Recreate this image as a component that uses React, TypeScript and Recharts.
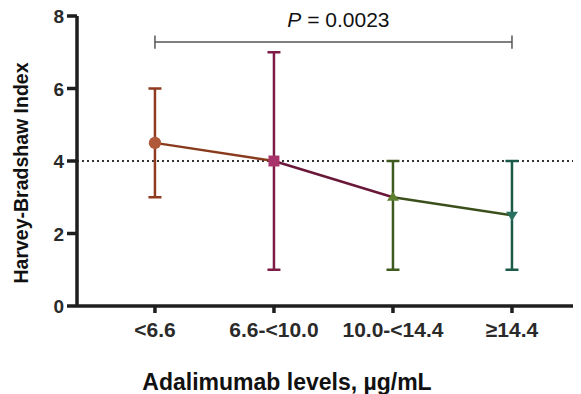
import { ComposedChart, Line, Scatter, ErrorBar, XAxis, YAxis, ZAxis, ReferenceLine } from 'recharts'

const groups = ['<6.6', '6.6-<10.0', '10.0-<14.4', '≥14.4']
const medians = [4.5, 4, 3, 2.5]
const lows = [3, 1, 1, 1]
const highs = [6, 7, 4, 4]
const yTicks = [0, 2, 4, 6, 8]
const pText = '= 0.0023'
const bracketY = 7.28

const markerColors = ['#b0583a', '#a8336a', '#5e7f2e', '#2a7060']
const barColors = ['#8e3b1f', '#7e1c48', '#3f5a1e', '#1b5a48']
const segmentColors = ['#8a3a1c', '#6a1838', '#3a4f1a']
const shapes = ['circle', 'square', 'up', 'down']

const axisColor = '#1e1e1e'
const font = 'Arial, "Liberation Sans", sans-serif'

// one row per group, segment keys only set on the two ends of each segment
const rows = groups.map((g, i) => {
  const row: Record<string, number | null> = { i, v: medians[i] }
  for (let s = 0; s < groups.length - 1; s++) {
    row[`seg${s}`] = i === s || i === s + 1 ? medians[i] : null
  }
  return row
})

const points = groups.map((g, i) => [{ i, v: medians[i], err: [medians[i] - lows[i], highs[i] - medians[i]] }])

const Triangle = (props: any) => {
  const { cx, cy, fill, down } = props
  const r = 6
  const s = down ? 1 : -1
  return <polygon points={`${cx - r},${cy - s * r * 0.6} ${cx + r},${cy - s * r * 0.6} ${cx},${cy + s * r * 0.9}`} fill={fill} />
}

const XTick = (props: any) => {
  const { x, y, payload } = props
  return (
    <text x={x} y={y} dy={22} textAnchor="middle" fontFamily={font} fontWeight="bold" fontSize={21} fill="#2a2a2a">
      {groups[payload.value]}
    </text>
  )
}

const YTick = (props: any) => {
  const { x, y, payload } = props
  return (
    <text x={x} y={y} dx={-1} dy={7} textAnchor="end" fontFamily={font} fontWeight="bold" fontSize={19} fill="#2a2a2a">
      {payload.value}
    </text>
  )
}

const XTitle = (props: any) => {
  const { viewBox } = props
  return (
    <text x={viewBox.x + 210} y={viewBox.y + 84} textAnchor="middle" fontFamily={font} fontWeight="bold" fontSize={23} fill="#111">
      Adalimumab levels, µg/mL
    </text>
  )
}

const YTitle = (props: any) => {
  const { viewBox } = props
  const cx = 28
  const cy = viewBox.y + viewBox.height / 2 + 12
  return (
    <text x={cx} y={cy} transform={`rotate(-90 ${cx} ${cy})`} textAnchor="middle" fontFamily={font} fontWeight="bold" fontSize={19.5} fill="#111">
      Harvey-Bradshaw Index
    </text>
  )
}

const PLabel = (props: any) => {
  const { viewBox } = props
  return (
    <text x={viewBox.x + viewBox.width / 2 + 5} y={viewBox.y - 15} textAnchor="middle" fontFamily={font} fontSize={21} fill="#111">
      <tspan fontStyle="italic">P</tspan> {pText}
    </text>
  )
}

const markerShape = (k: number) => {
  if (shapes[k] === 'up') return <Triangle />
  if (shapes[k] === 'down') return <Triangle down />
  return shapes[k] as any
}

export default function App() {
  return (
    <div style={{ margin: '-8px 0 0 -8px' }}>
      <ComposedChart width={581} height={394} data={rows} margin={{ top: 16, right: 0, bottom: 0, left: 17 }}>
        <XAxis
          type="number"
          dataKey="i"
          domain={[-0.655, 3.58]}
          ticks={[0, 1, 2, 3]}
          allowDataOverflow
          height={88}
          stroke={axisColor}
          strokeWidth={3.5}
          tickSize={7}
          tick={<XTick />}
          label={<XTitle />}
        />
        <YAxis
          type="number"
          domain={[0, 8]}
          ticks={yTicks}
          width={60}
          stroke={axisColor}
          strokeWidth={3.5}
          tickSize={10}
          tick={<YTick />}
          label={<YTitle />}
        />
        <ZAxis range={[120, 120]} />
        <ReferenceLine y={4} stroke="#333" strokeWidth={2} strokeDasharray="2 3" />
        <ReferenceLine
          segment={[{ x: 0, y: bracketY }, { x: 3, y: bracketY }]}
          stroke="#555"
          strokeWidth={1.5}
          label={<PLabel />}
        />
        <ReferenceLine segment={[{ x: 0, y: bracketY - 0.18 }, { x: 0, y: bracketY + 0.18 }]} stroke="#555" strokeWidth={1.5} />
        <ReferenceLine segment={[{ x: 3, y: bracketY - 0.18 }, { x: 3, y: bracketY + 0.18 }]} stroke="#555" strokeWidth={1.5} />
        {segmentColors.map((c, s) => (
          <Line
            key={s}
            type="linear"
            dataKey={`seg${s}`}
            stroke={c}
            strokeWidth={2.5}
            dot={false}
            activeDot={false}
            connectNulls={false}
            isAnimationActive={false}
          />
        ))}
        {points.map((d, k) => (
          <Scatter key={k} data={d} dataKey="v" fill={markerColors[k]} shape={markerShape(k)} isAnimationActive={false}>
            <ErrorBar dataKey="err" direction="y" width={6.5} stroke={barColors[k]} strokeWidth={2.5} isAnimationActive={false} />
          </Scatter>
        ))}
      </ComposedChart>
    </div>
  )
}
